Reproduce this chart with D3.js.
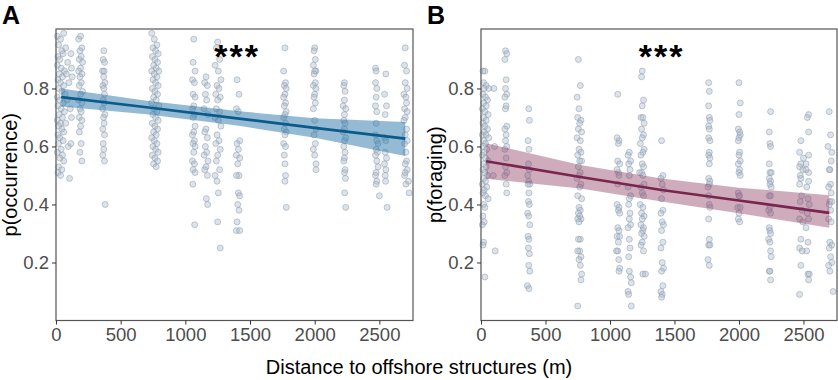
<!DOCTYPE html>
<html lang="en">
<head>
<meta charset="UTF-8">
<title>p(occurrence) and p(foraging) vs distance</title>
<script src="https://d3js.org/d3.v7.min.js"></script>
<style>
  body { margin: 0; background: #fff; }
  svg { display: block; font-family: "Liberation Sans", Arial, sans-serif; }
  .tick text { fill: #4d4d4d; font-size: 18.5px; }
  .tick line { stroke: #333; }
  .ttl { font-size: 20px; fill: #000; }
  .panel-lab { font-size: 25px; font-weight: bold; }
  .stars { font-size: 34px; font-weight: bold; letter-spacing: 2px; }
</style>
</head>
<body>
<svg id="chart" width="838" height="380"></svg>
<script>
// axis ticks
const xTicks = [0, 500, 1000, 1500, 2000, 2500];
const yTicks = [0.2, 0.4, 0.6, 0.8];

// panel A: jittered observations [distance, p(occurrence)]
const occurrencePoints = [
  [10,0.98],[35,0.97],[60,0.99],[20,0.95],[45,0.93],[75,0.94],[15,0.91],[30,0.90],[55,0.92],[90,0.89],
  [10,0.88],[40,0.87],[65,0.86],[25,0.85],[50,0.84],[80,0.85],[15,0.83],[35,0.82],[60,0.81],[100,0.82],
  [20,0.80],[45,0.79],[70,0.78],[10,0.77],[30,0.76],[55,0.75],[85,0.76],[15,0.74],[40,0.73],[65,0.72],
  [25,0.71],[50,0.70],[10,0.69],[35,0.68],[75,0.68],[20,0.67],[45,0.66],[60,0.65],[15,0.64],[30,0.63],
  [55,0.62],[95,0.60],[20,0.61],[40,0.59],[10,0.58],[50,0.57],[30,0.56],[60,0.55],[20,0.53],[45,0.52],
  [15,0.51],[35,0.50],[105,0.49],[115,0.92],[120,0.87],[125,0.84],[110,0.73],[120,0.70],[115,0.61],
  [190,0.98],[175,0.97],[200,0.94],[185,0.93],[195,0.91],[180,0.90],[205,0.89],[190,0.87],[175,0.86],
  [200,0.85],[185,0.84],[195,0.82],[180,0.81],[205,0.79],[190,0.78],[175,0.76],[200,0.75],[185,0.73],
  [195,0.72],[180,0.70],[200,0.69],[190,0.67],[180,0.65],[195,0.61],[185,0.58],[200,0.55],
  [370,0.93],[365,0.90],[375,0.89],[360,0.86],[372,0.86],[368,0.84],[378,0.82],[362,0.81],[370,0.80],
  [375,0.78],[365,0.76],[372,0.75],[360,0.73],[378,0.71],[368,0.70],[372,0.68],[362,0.66],[375,0.64],
  [365,0.61],[370,0.59],[362,0.57],[375,0.55],[380,0.40],
  [740,0.99],[760,0.97],[780,0.95],[750,0.94],[770,0.93],[790,0.92],[745,0.91],[765,0.90],[785,0.89],
  [755,0.88],[775,0.87],[740,0.86],[795,0.86],[760,0.85],[780,0.84],[750,0.83],[770,0.82],[790,0.81],
  [745,0.80],[765,0.79],[785,0.78],[755,0.77],[775,0.76],[740,0.75],[795,0.74],[760,0.73],[780,0.72],
  [750,0.71],[770,0.70],[790,0.69],[745,0.68],[765,0.67],[785,0.66],[755,0.65],[775,0.64],[740,0.63],
  [760,0.62],[780,0.61],[750,0.60],[770,0.59],[790,0.58],[745,0.57],[765,0.56],[785,0.55],[755,0.54],[775,0.53],
  [1065,0.97],[1060,0.89],[1075,0.86],[1055,0.83],[1070,0.82],[1060,0.78],[1075,0.77],[1065,0.74],
  [1055,0.73],[1070,0.71],[1060,0.70],[1075,0.67],[1065,0.65],[1055,0.64],[1070,0.62],[1060,0.61],
  [1075,0.60],[1065,0.58],[1055,0.55],[1070,0.54],[1060,0.52],[1075,0.51],[1058,0.47],[1072,0.33],
  [1160,0.84],[1150,0.82],[1170,0.81],[1155,0.78],[1165,0.76],[1145,0.73],[1175,0.71],[1160,0.66],
  [1150,0.65],[1170,0.63],[1155,0.60],[1165,0.58],[1145,0.57],[1175,0.55],[1160,0.53],[1150,0.52],
  [1170,0.50],[1162,0.42],[1172,0.40],
  [1250,0.96],[1240,0.94],[1265,0.90],[1230,0.88],[1255,0.86],[1275,0.83],[1245,0.81],[1260,0.80],
  [1235,0.78],[1270,0.77],[1250,0.76],[1240,0.73],[1265,0.72],[1230,0.70],[1255,0.69],[1275,0.67],
  [1245,0.64],[1260,0.62],[1235,0.61],[1270,0.59],[1250,0.57],[1240,0.55],[1265,0.52],[1230,0.50],
  [1245,0.48],[1255,0.44],[1250,0.34],[1270,0.25],
  [1400,0.83],[1415,0.78],[1395,0.73],[1410,0.72],[1420,0.62],[1400,0.61],[1410,0.59],[1395,0.57],
  [1420,0.56],[1405,0.54],[1415,0.50],[1395,0.50],[1410,0.44],[1420,0.43],[1405,0.40],[1415,0.38],
  [1400,0.34],[1395,0.31],[1420,0.31],
  [1770,0.94],[1760,0.86],[1775,0.82],[1765,0.81],[1780,0.80],[1770,0.78],[1760,0.77],[1775,0.75],
  [1765,0.74],[1780,0.72],[1770,0.71],[1760,0.70],[1775,0.68],[1765,0.66],[1780,0.65],[1770,0.64],
  [1760,0.61],[1775,0.60],[1765,0.57],[1770,0.54],[1775,0.50],[1770,0.48],[1780,0.39],
  [2000,0.94],[1995,0.93],[2005,0.90],[1990,0.88],[2010,0.86],[2000,0.86],[1995,0.85],[2005,0.82],
  [1990,0.81],[2010,0.80],[2000,0.78],[1995,0.77],[2005,0.75],[1990,0.73],[2000,0.69],[2010,0.66],
  [1995,0.64],[2005,0.61],[1990,0.59],[2000,0.57],[2010,0.54],[2010,0.52],
  [2230,0.82],[2225,0.81],[2235,0.79],[2230,0.76],[2220,0.74],[2240,0.73],[2230,0.71],[2225,0.69],
  [2235,0.68],[2230,0.66],[2220,0.65],[2240,0.63],[2230,0.62],[2225,0.60],[2235,0.58],[2230,0.56],
  [2225,0.55],[2235,0.52],[2230,0.51],[2238,0.49],[2232,0.44],[2240,0.39],
  [2470,0.87],[2475,0.86],[2470,0.82],[2480,0.80],[2475,0.77],[2470,0.74],[2480,0.72],[2475,0.68],
  [2470,0.64],[2480,0.62],[2490,0.61],[2475,0.59],[2485,0.58],[2470,0.57],[2480,0.55],[2490,0.53],
  [2475,0.51],[2470,0.50],[2480,0.48],[2475,0.47],[2500,0.43],
  [2550,0.85],[2540,0.78],[2555,0.74],[2545,0.71],[2540,0.63],[2550,0.62],[2545,0.58],[2555,0.56],
  [2540,0.54],[2550,0.52],[2545,0.50],[2548,0.48],[2560,0.39],
  [2700,0.94],[2695,0.88],[2710,0.86],[2700,0.82],[2715,0.80],[2690,0.78],[2705,0.77],[2710,0.75],
  [2695,0.73],[2715,0.72],[2700,0.70],[2690,0.69],[2710,0.66],[2700,0.64],[2715,0.62],[2695,0.61],
  [2705,0.58],[2710,0.55],[2700,0.54],[2715,0.52],[2695,0.50],[2700,0.51],[2705,0.47],[2725,0.48],[2730,0.44]
];

// panel B: jittered observations [distance, p(foraging)]
const foragingPoints = [
  [15,0.86],[30,0.86],[20,0.82],[40,0.81],[25,0.80],[60,0.80],[15,0.78],[35,0.77],[50,0.76],[20,0.75],
  [40,0.74],[10,0.73],[30,0.72],[55,0.71],[20,0.70],[40,0.69],[15,0.68],[30,0.67],[50,0.66],[25,0.65],
  [10,0.64],[40,0.64],[60,0.63],[20,0.62],[35,0.61],[15,0.60],[45,0.59],[25,0.58],[10,0.57],[35,0.56],
  [55,0.55],[20,0.54],[40,0.53],[15,0.52],[30,0.51],[50,0.50],[20,0.49],[35,0.48],[10,0.47],[45,0.46],
  [25,0.45],[15,0.44],[35,0.43],[55,0.42],[20,0.40],[30,0.39],[15,0.36],[25,0.34],[10,0.33],[20,0.27],
  [15,0.26],[30,0.15],[110,0.24],[100,0.80],[105,0.60],[95,0.50],
  [190,0.93],[200,0.92],[185,0.90],[195,0.83],[190,0.80],[200,0.78],[185,0.77],[195,0.74],[190,0.73],
  [200,0.67],[185,0.66],[195,0.64],[190,0.62],[200,0.60],[185,0.59],[195,0.56],[190,0.53],[200,0.51],
  [185,0.50],[195,0.47],[200,0.44],
  [370,0.73],[375,0.69],[365,0.62],[372,0.59],[368,0.54],[375,0.52],[362,0.50],[370,0.48],[378,0.47],
  [365,0.47],[372,0.44],[368,0.41],[375,0.40],[362,0.37],[370,0.36],[378,0.33],[365,0.29],[372,0.28],
  [368,0.25],[375,0.23],[370,0.19],[378,0.17],[360,0.12],[372,0.11],
  [755,0.90],[770,0.81],[745,0.77],[760,0.73],[750,0.70],[775,0.69],[765,0.68],[755,0.66],[780,0.65],
  [745,0.63],[770,0.62],[760,0.59],[775,0.58],[750,0.57],[765,0.55],[780,0.55],[755,0.53],[770,0.51],
  [760,0.50],[745,0.49],[775,0.47],[765,0.46],[750,0.43],[780,0.42],[760,0.39],[770,0.38],[755,0.37],
  [765,0.36],[775,0.35],[750,0.35],[760,0.34],[770,0.28],[755,0.28],[765,0.24],[750,0.24],[775,0.22],
  [760,0.21],[770,0.19],[780,0.16],[775,0.14],[750,0.05],
  [1060,0.78],[1055,0.63],[1070,0.62],[1065,0.61],[1060,0.55],[1075,0.54],[1055,0.52],[1065,0.51],
  [1070,0.50],[1060,0.47],[1055,0.40],[1070,0.39],[1065,0.38],[1075,0.37],[1060,0.32],[1070,0.31],
  [1055,0.29],[1075,0.29],[1065,0.27],[1060,0.24],[1050,0.24],[1068,0.21],[1075,0.18],[1070,0.17],
  [1150,0.58],[1140,0.57],[1160,0.55],[1145,0.54],[1155,0.52],[1150,0.50],[1140,0.46],[1160,0.43],
  [1150,0.42],[1145,0.40],[1155,0.37],[1150,0.35],[1160,0.33],[1140,0.32],[1150,0.28],[1155,0.25],
  [1145,0.22],[1150,0.17],[1160,0.15],[1165,0.13],[1140,0.10],[1145,0.09],[1165,0.05],
  [1250,0.86],[1245,0.84],[1260,0.76],[1250,0.74],[1240,0.70],[1255,0.70],[1265,0.68],[1245,0.66],
  [1260,0.64],[1250,0.63],[1235,0.61],[1265,0.59],[1255,0.58],[1240,0.57],[1250,0.54],[1260,0.53],
  [1245,0.51],[1230,0.51],[1255,0.50],[1265,0.47],[1240,0.46],[1250,0.44],[1260,0.43],[1235,0.40],
  [1255,0.39],[1245,0.37],[1265,0.36],[1250,0.35],[1240,0.33],[1260,0.32],[1255,0.31],[1245,0.30],
  [1265,0.29],[1250,0.27],[1240,0.26],[1260,0.24],[1255,0.16],[1275,0.16],
  [1400,0.62],[1410,0.50],[1395,0.49],[1405,0.47],[1415,0.45],[1400,0.42],[1410,0.38],[1395,0.37],
  [1405,0.34],[1415,0.33],[1400,0.31],[1410,0.27],[1395,0.25],[1405,0.20],[1415,0.18],[1400,0.17],
  [1410,0.12],[1395,0.10],[1405,0.09],[1400,0.08],
  [1765,0.82],[1770,0.79],[1765,0.74],[1770,0.70],[1775,0.69],[1765,0.67],[1770,0.66],[1765,0.63],
  [1775,0.62],[1770,0.58],[1765,0.57],[1775,0.56],[1770,0.54],[1765,0.49],[1775,0.48],[1770,0.47],
  [1760,0.46],[1765,0.43],[1770,0.40],[1775,0.39],[1765,0.35],[1770,0.28],[1765,0.26],[1775,0.26],
  [1760,0.21],[1770,0.19],
  [2000,0.82],[2010,0.75],[2000,0.71],[1995,0.66],[2005,0.65],[2010,0.64],[2000,0.63],[1995,0.62],
  [2005,0.58],[2000,0.57],[2010,0.55],[1995,0.54],[2005,0.52],[2000,0.51],[2010,0.50],[1995,0.44],
  [2005,0.43],[2000,0.43],[1990,0.39],[2010,0.39],[2000,0.37],[1995,0.35],[2005,0.34],
  [2245,0.72],[2235,0.65],[2240,0.61],[2245,0.60],[2235,0.54],[2240,0.51],[2250,0.51],[2235,0.49],
  [2245,0.48],[2240,0.47],[2250,0.46],[2235,0.43],[2245,0.43],[2240,0.39],[2230,0.38],[2245,0.37],
  [2235,0.32],[2240,0.31],[2245,0.30],[2230,0.28],[2240,0.27],[2245,0.24],[2250,0.22],[2235,0.17],
  [2240,0.17],[2245,0.14],
  [2540,0.71],[2530,0.70],[2540,0.65],[2480,0.62],[2470,0.58],[2540,0.57],[2500,0.56],[2480,0.54],
  [2520,0.54],[2470,0.53],[2495,0.52],[2540,0.51],[2475,0.50],[2520,0.52],[2480,0.49],[2540,0.48],
  [2470,0.47],[2525,0.46],[2485,0.43],[2535,0.42],[2475,0.41],[2545,0.40],[2490,0.38],[2530,0.37],
  [2470,0.35],[2540,0.35],[2495,0.34],[2520,0.32],[2480,0.28],[2535,0.27],[2470,0.25],[2525,0.24],
  [2490,0.24],[2480,0.19],[2535,0.16],[2545,0.16],[2540,0.14],[2470,0.09],
  [2700,0.72],[2710,0.64],[2690,0.60],[2720,0.58],[2715,0.55],[2705,0.52],[2700,0.52],[2710,0.47],
  [2695,0.46],[2715,0.44],[2705,0.41],[2720,0.41],[2700,0.40],[2710,0.38],[2695,0.35],[2715,0.34],
  [2705,0.27],[2720,0.26],[2700,0.25],[2710,0.22],[2720,0.20],[2695,0.19],[2705,0.17],[2730,0.10]
];

// fitted model with 95% band
const occFitX  = [40, 700, 1400, 2000, 2700];
const occFit   = [0.770, 0.735, 0.697, 0.664, 0.627];
const occLower = [0.738, 0.711, 0.672, 0.630, 0.567];
const occUpper = [0.800, 0.758, 0.722, 0.697, 0.684];

const forFitX  = [40, 770, 1400, 2000, 2700];
const forFit   = [0.549, 0.495, 0.450, 0.414, 0.371];
const forLower = [0.489, 0.455, 0.410, 0.370, 0.320];
const forUpper = [0.611, 0.536, 0.490, 0.458, 0.432];

const svg = d3.select("#chart");
const plotTop = 29, plotBottom = 320.5;

const y = d3.scaleLinear().domain([0, 1.005]).range([plotBottom, plotTop]);

function panel(o) {
  const x = d3.scaleLinear().domain([0, 2760]).range([o.left, o.right]);
  const g = svg.append("g");

  g.selectAll("circle")
    .data(o.points)
    .enter()
    .append("circle")
    .attr("cx", d => x(d[0]))
    .attr("cy", d => y(d[1]))
    .attr("r", 3)
    .attr("fill", "#aab8c7")
    .attr("fill-opacity", 0.4)
    .attr("stroke", "#8396aa")
    .attr("stroke-opacity", 0.6)
    .attr("stroke-width", 0.8);

  const band = o.fitX.map((d, i) => ({ x: d, lo: o.lower[i], hi: o.upper[i], f: o.fit[i] }));

  g.append("path")
    .datum(band)
    .attr("d", d3.area().x(d => x(d.x)).y0(d => y(d.lo)).y1(d => y(d.hi)))
    .attr("fill", o.bandColor)
    .attr("fill-opacity", o.bandOpacity);

  g.append("path")
    .datum(band)
    .attr("d", d3.line().x(d => x(d.x)).y(d => y(d.f)))
    .attr("fill", "none")
    .attr("stroke", o.lineColor)
    .attr("stroke-width", 2.6);

  // frame
  g.append("rect")
    .attr("x", o.left).attr("y", plotTop)
    .attr("width", o.right - o.left).attr("height", plotBottom - plotTop)
    .attr("fill", "none").attr("stroke", "#555").attr("stroke-width", 1.2);

  g.append("g")
    .attr("transform", `translate(0,${plotBottom})`)
    .call(d3.axisBottom(x).tickValues(xTicks).tickFormat(d3.format("d")).tickSize(4).tickPadding(3))
    .call(a => a.select(".domain").remove());

  g.append("g")
    .attr("transform", `translate(${o.left},0)`)
    .call(d3.axisLeft(y).tickValues(yTicks).tickFormat(d3.format(".1f")).tickSize(4).tickPadding(3))
    .call(a => a.select(".domain").remove());

  svg.append("text")
    .attr("class", "ttl")
    .attr("transform", `translate(${o.titleX},${(plotTop + plotBottom) / 2}) rotate(-90)`)
    .attr("text-anchor", "middle")
    .text(o.yTitle);

  svg.append("text")
    .attr("class", "stars")
    .attr("x", x(1400))
    .attr("y", 68)
    .attr("text-anchor", "middle")
    .text("***");

  svg.append("text")
    .attr("class", "panel-lab")
    .attr("x", o.labelX)
    .attr("y", 24)
    .text(o.label);
}

panel({ left: 56, right: 413, points: occurrencePoints, fitX: occFitX, fit: occFit,
  lower: occLower, upper: occUpper, bandColor: "#2a78a8", bandOpacity: 0.5,
  lineColor: "#0b5a8c", yTitle: "p(occurrence)", titleX: 17, label: "A", labelX: 2 });

panel({ left: 481, right: 837, points: foragingPoints, fitX: forFitX, fit: forFit,
  lower: forLower, upper: forUpper, bandColor: "#8a3a60", bandOpacity: 0.42,
  lineColor: "#7a2550", yTitle: "p(foraging)", titleX: 442, label: "B", labelX: 427 });

svg.append("text")
  .attr("class", "ttl")
  .attr("x", 419)
  .attr("y", 374)
  .attr("text-anchor", "middle")
  .text("Distance to offshore structures (m)");
</script>
</body>
</html>
